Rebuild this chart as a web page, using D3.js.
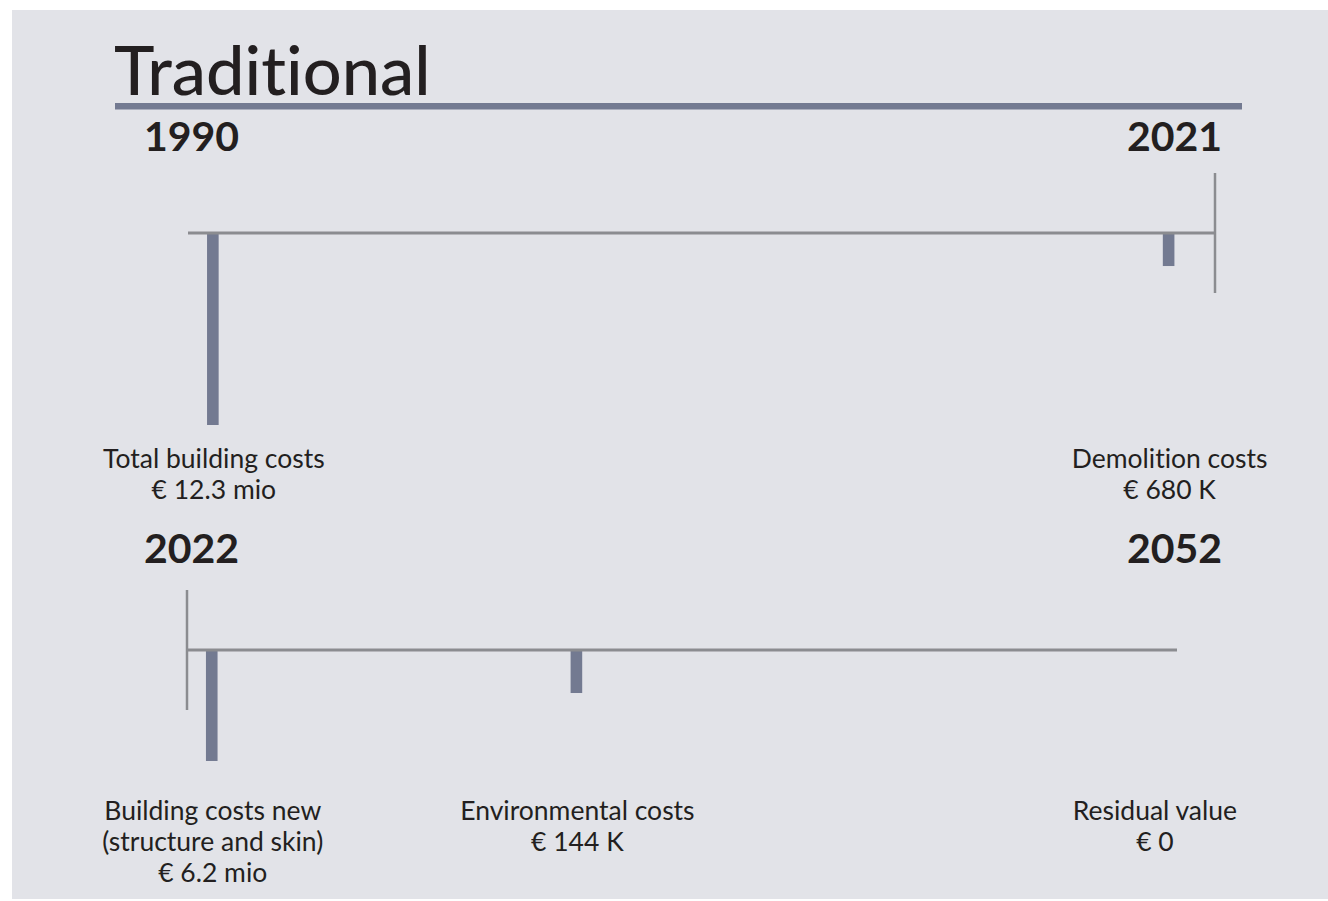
<!DOCTYPE html>
<html>
<head>
<meta charset="utf-8">
<script src="https://cdn.jsdelivr.net/npm/d3@7"></script>
<style>
  html, body { margin: 0; padding: 0; background: #ffffff; }
  svg { display: block; }
  text { font-family: Lato, "Noto Sans", sans-serif; fill: #231f20; font-variant-ligatures: none; }
</style>
</head>
<body>
<svg id="chart" width="1328" height="901"></svg>
<script>
// chart content
var title = "Traditional";

// two timelines, start / end year
var periods = [
  {start: 1990, end: 2021, tick: "end"},
  {start: 2022, end: 2052, tick: "start"}
];

// events: which period, when, label lines, bar length (% of longest bar, as drawn)
var eventPeriod = [0, 0, 1, 1, 1];
var eventYear   = [1990.75, 2019.6, 2022.75, 2033.8, 2051.3];
var eventLabels = [
  ["Total building costs", "€ 12.3 mio"],
  ["Demolition costs", "€ 680 K"],
  ["Building costs new", "(structure and skin)", "€ 6.2 mio"],
  ["Environmental costs", "€ 144 K"],
  ["Residual value", "€ 0"]
];
var barLength = [100, 17.2, 57.8, 22.4, 0];

var colors = {bg: "#e2e3e8", bar: "#737a91", axis: "#8b8c90", text: "#231f20"};

var svg = d3.select("#chart");

svg.append("rect")
    .attr("x", 12).attr("y", 10)
    .attr("width", 1316).attr("height", 889)
    .attr("fill", colors.bg);

// title + rule
svg.append("text")
    .attr("x", 114).attr("y", 95)
    .style("font-size", "68.5px")
    .style("font-weight", 500)
    .text(title);

svg.append("rect")
    .attr("x", 115).attr("y", 103)
    .attr("width", 1242 - 115).attr("height", 6.5)
    .attr("fill", colors.bar);

// layout per timeline
var panels = [
  {axisY: 233, yearY: 151, labelY: 468, x0: 188, x1: 1215},
  {axisY: 650, yearY: 563, labelY: 820, x0: 187, x1: 1177}
];

var barH = d3.scaleLinear().domain([0, 100]).range([0, 192]);

periods.forEach(function(p, i) {
  var pan = panels[i];
  var x = d3.scaleLinear().domain([p.start, p.end]).range([pan.x0, pan.x1]);
  var g = svg.append("g");

  // year labels
  g.append("text")
      .attr("x", 144).attr("y", pan.yearY)
      .style("font-size", "41px").style("font-weight", 700)
      .text(p.start);
  g.append("text")
      .attr("x", 1222).attr("y", pan.yearY)
      .attr("text-anchor", "end")
      .style("font-size", "41px").style("font-weight", 700)
      .text(p.end);

  // events
  var evs = d3.range(eventYear.length).filter(function(k) { return eventPeriod[k] === i; });

  g.selectAll("rect.bar")
      .data(evs)
    .enter().append("rect")
      .attr("class", "bar")
      .attr("x", function(k) { return x(eventYear[k]) - 5.8; })
      .attr("y", pan.axisY)
      .attr("width", 11.6)
      .attr("height", function(k) { return barH(barLength[k]); })
      .attr("fill", colors.bar);

  // axis line
  g.append("line")
      .attr("x1", x(p.start)).attr("x2", x(p.end))
      .attr("y1", pan.axisY).attr("y2", pan.axisY)
      .attr("stroke", colors.axis).attr("stroke-width", 3);

  var tx = p.tick === "end" ? x(p.end) : x(p.start);
  g.append("line")
      .attr("x1", tx).attr("x2", tx)
      .attr("y1", pan.axisY - 60).attr("y2", pan.axisY + 60)
      .attr("stroke", colors.axis).attr("stroke-width", 2.5);

  var lab = g.selectAll("text.lab")
      .data(evs)
    .enter().append("text")
      .attr("class", "lab")
      .attr("text-anchor", "middle")
      .attr("y", pan.labelY)
      .style("font-size", "26.5px");

  lab.selectAll("tspan")
      .data(function(k) { return eventLabels[k].map(function(s) { return {s: s, k: k}; }); })
    .enter().append("tspan")
      .attr("x", function(d) { return x(eventYear[d.k]) + 1; })
      .attr("dy", function(d, j) { return j === 0 ? 0 : 31; })
      .text(function(d) { return d.s; });
});
</script>
</body>
</html>
